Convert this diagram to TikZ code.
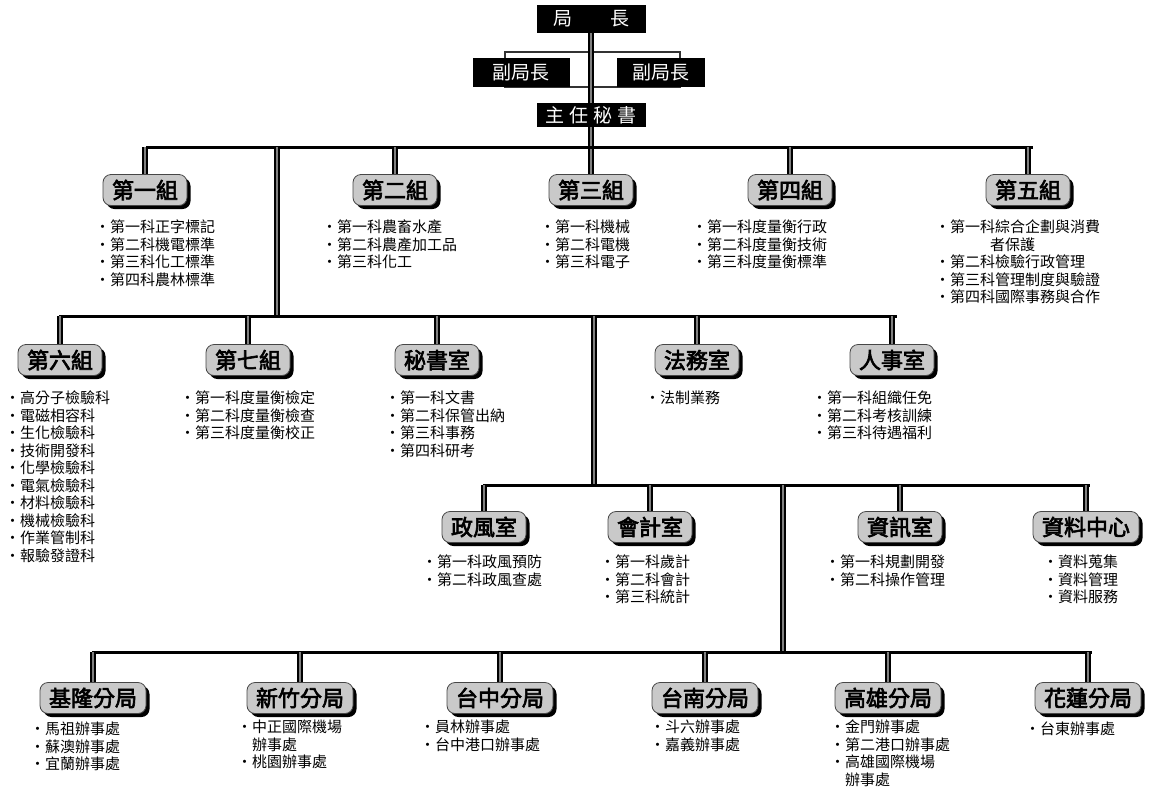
\documentclass[tikz,border=0pt]{standalone}
\usepackage{fontspec}
\newfontfamily\cjk{Noto Sans CJK TC}
\newfontfamily\cjkb{Noto Sans CJK TC}[FakeBold=3]
\usetikzlibrary{shadows,backgrounds}
\tikzset{
  grp/.style={rounded corners=8pt, fill=gray!42, draw=gray!55!black, line width=0.8pt,
    font=\cjkb\fontsize{22}{22}\selectfont, minimum height=31pt, inner xsep=9pt, inner ysep=2pt,
    drop shadow={shadow xshift=3.5pt, shadow yshift=-3.5pt, fill=black, opacity=1}},
  topbox/.style={fill=black, text=white, font=\cjk\fontsize{19}{19}\selectfont,
    inner xsep=5pt, inner ysep=1pt, minimum height=28pt},
  items/.style={font=\cjk\fontsize{15}{17.5}\selectfont, align=left, anchor=north west, inner sep=0pt},
  conn/.style={line width=1.8pt, double=black!50, double distance=1.8pt},
  bar/.style={line width=3pt, line cap=rect},
  thin/.style={line width=1.2pt, draw=black!80},
}
\begin{document}
\begin{tikzpicture}[x=1pt,y=-1pt]
\useasboundingbox (0,0) rectangle (1160,793);
% top
\node[topbox, minimum width=109pt] (boss) at (591,19) {局\hspace{38pt}長};
\node[topbox, minimum width=97pt, minimum height=29pt] (dep1) at (521,72) {副局長};
\node[topbox, minimum width=88pt, minimum height=29pt] (dep2) at (661,72) {副局長};
\node[topbox, minimum width=109pt, minimum height=24pt] (cs) at (591,115) {主\hspace{5pt}任\hspace{5pt}秘\hspace{5pt}書};
\coordinate (brNW) at (505,52);
\coordinate (brSE) at (680,87);
% bars
\coordinate (b1w) at (147,147); \coordinate (b1e) at (1031,147);
\coordinate (b2w) at (60,316);  \coordinate (b2e) at (895,316);
\coordinate (b3w) at (484,485); \coordinate (b3e) at (1088,485);
\coordinate (b4w) at (93,652);  \coordinate (b4e) at (1090,652);
\coordinate (t2) at (277,147);
\coordinate (t3) at (594,316);
\coordinate (t4) at (783,485);
% row 1
\node[grp] (g1) at (145,190) {第一組};
\node[grp] (g2) at (395,190) {第二組};
\node[grp] (g3) at (591,190) {第三組};
\node[grp] (g4) at (790,190) {第四組};
\node[grp] (g5) at (1028,190) {第五組};
\node[items] (l1) at (95,220) {・第一科正字標記\\・第二科機電標準\\・第三科化工標準\\・第四科農林標準};
\node[items] (l2) at (322,220) {・第一科農畜水產\\・第二科農產加工品\\・第三科化工};
\node[items] (l3) at (540,220) {・第一科機械\\・第二科電機\\・第三科電子};
\node[items] (l4) at (692,220) {・第一科度量衡行政\\・第二科度量衡技術\\・第三科度量衡標準};
\node[items] (l5) at (935,220) {・第一科綜合企劃與消費\\\hspace{55pt}者保護\\・第二科檢驗行政管理\\・第三科管理制度與驗證\\・第四科國際事務與合作};
% row 2
\node[grp] (g6) at (60,360) {第六組};
\node[grp] (g7) at (248,360) {第七組};
\node[grp] (sec) at (437,360) {秘書室};
\node[grp] (law) at (697,360) {法務室};
\node[grp] (hr) at (892,360) {人事室};
\node[items] (l6) at (5,391) {・高分子檢驗科\\・電磁相容科\\・生化檢驗科\\・技術開發科\\・化學檢驗科\\・電氣檢驗科\\・材料檢驗科\\・機械檢驗科\\・作業管制科\\・報驗發證科};
\node[items] (l7) at (180,391) {・第一科度量衡檢定\\・第二科度量衡檢查\\・第三科度量衡校正};
\node[items] (lsec) at (385,391) {・第一科文書\\・第二科保管出納\\・第三科事務\\・第四科研考};
\node[items] (llaw) at (645,391) {・法制業務};
\node[items] (lhr) at (812,391) {・第一科組織任免\\・第二科考核訓練\\・第三科待遇福利};
% row 3
\node[grp] (eth) at (484,527) {政風室};
\node[grp] (acc) at (650,527) {會計室};
\node[grp] (it) at (900,527) {資訊室};
\node[grp] (dc) at (1086,527) {資料中心};
\node[items] (leth) at (422,555) {・第一科政風預防\\・第二科政風查處};
\node[items] (lacc) at (600,555) {・第一科歲計\\・第二科會計\\・第三科統計};
\node[items] (lit) at (825,555) {・第一科規劃開發\\・第二科操作管理};
\node[items] (ldc) at (1043,555) {・資料蒐集\\・資料管理\\・資料服務};
% row 4
\node[grp] (kl) at (93,698) {基隆分局};
\node[grp] (hc) at (300,698) {新竹分局};
\node[grp] (tc) at (500,698) {台中分局};
\node[grp] (tn) at (705,698) {台南分局};
\node[grp] (kh) at (888,698) {高雄分局};
\node[grp] (hl) at (1088,698) {花蓮分局};
\node[items] (lkl) at (30,722) {・馬祖辦事處\\・蘇澳辦事處\\・宜蘭辦事處};
\node[items] (lhc) at (237,720) {・中正國際機場\\\hspace{15pt}辦事處\\・桃園辦事處};
\node[items] (ltc) at (420,720) {・員林辦事處\\・台中港口辦事處};
\node[items] (ltn) at (650,720) {・斗六辦事處\\・嘉義辦事處};
\node[items] (lkh) at (830,720) {・金門辦事處\\・第二港口辦事處\\・高雄國際機場\\\hspace{15pt}辦事處};
\node[items] (lhl) at (1025,722) {・台東辦事處};
% connectors
\begin{scope}[on background layer]
\draw[thin] (brNW) rectangle (brSE);
\draw[conn] (boss) -- (cs);
\draw[conn] (cs) -- (g3);
\draw[bar] (b1w) -- (b1e);
\foreach \n in {g1,g2,g4,g5} \draw[conn] (\n.center |- b1w) -- (\n);
\draw[conn] (t2) -- (t2 |- b2w);
\draw[bar] (b2w) -- (b2e);
\foreach \n in {g6,g7,sec,law,hr} \draw[conn] (\n.center |- b2w) -- (\n);
\draw[conn] (t3) -- (t3 |- b3w);
\draw[bar] (b3w) -- (b3e);
\foreach \n in {eth,acc,it,dc} \draw[conn] (\n.center |- b3w) -- (\n);
\draw[conn] (t4) -- (t4 |- b4w);
\draw[bar] (b4w) -- (b4e);
\foreach \n in {kl,hc,tc,tn,kh,hl} \draw[conn] (\n.center |- b4w) -- (\n);
\end{scope}
\end{tikzpicture}
\end{document}
